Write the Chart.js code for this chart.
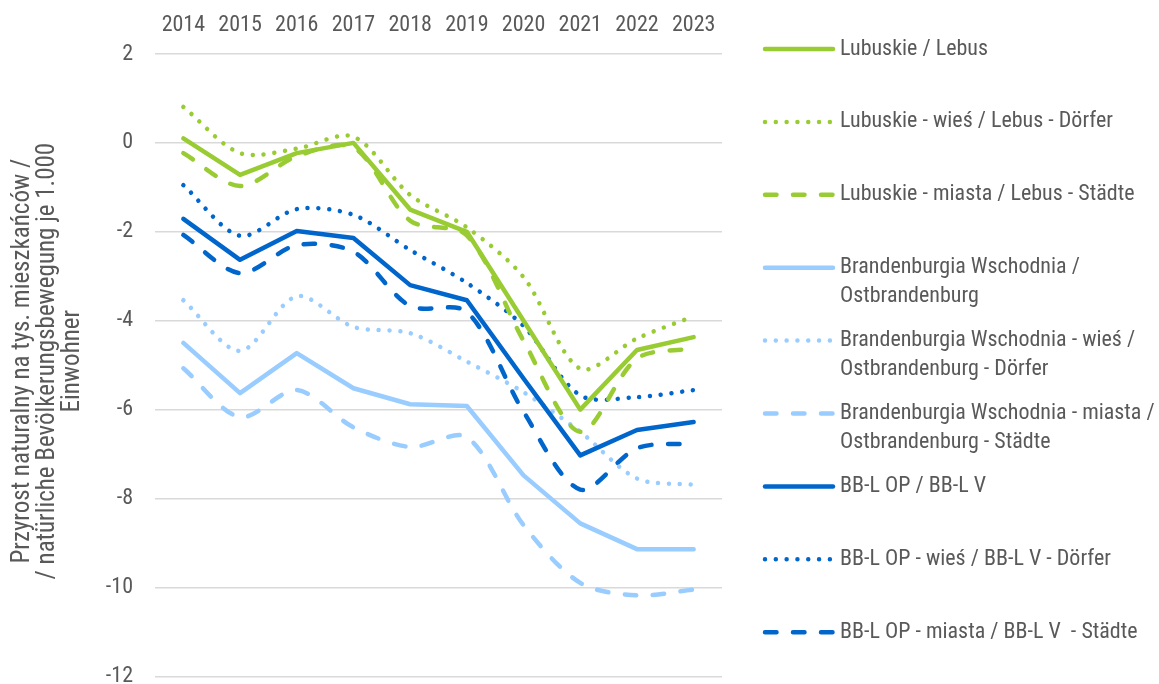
<!DOCTYPE html>
<html>
<head>
<meta charset="utf-8">
<script src="https://cdn.jsdelivr.net/npm/chart.js@4.4.1/dist/chart.umd.min.js"></script>
<style>
  html, body { margin: 0; padding: 0; background: #ffffff; }
  #wrap { width: 1159px; height: 684px; position: relative; }
</style>
</head>
<body>
<div id="wrap"><canvas id="c" width="1159" height="684"></canvas></div>
<script>
// ---------- data ----------
const years = ['2014', '2015', '2016', '2017', '2018', '2019', '2020', '2021', '2022', '2023'];

const lubuskie        = [0.10, -0.72, -0.23, 0.00, -1.50, -2.00, -4.00, -6.00, -4.66, -4.37];
const lubuskieWies    = [0.81, -0.23, -0.13, 0.14, -1.17, -1.90, -3.02, -5.08, -4.40, -3.90];
const lubuskieMiasta  = [-0.23, -0.97, -0.30, -0.10, -1.75, -2.08, -4.45, -6.50, -4.85, -4.62];
const brand           = [-4.50, -5.63, -4.73, -5.52, -5.88, -5.92, -7.48, -8.56, -9.14, -9.14];
const brandWies       = [-3.54, -4.68, -3.45, -4.14, -4.28, -4.92, -5.61, -6.50, -7.55, -7.69];
const brandMiasta     = [-5.07, -6.17, -5.56, -6.40, -6.84, -6.62, -8.60, -9.90, -10.18, -10.05];
const bbl             = [-1.71, -2.63, -1.98, -2.14, -3.20, -3.54, -5.30, -7.03, -6.46, -6.28];
const bblWies         = [-0.95, -2.09, -1.49, -1.62, -2.41, -3.15, -4.12, -5.68, -5.72, -5.56];
const bblMiasta       = [-2.07, -2.93, -2.30, -2.45, -3.67, -3.80, -6.05, -7.80, -6.87, -6.76];

const seriesNames = [
  'Lubuskie / Lebus',
  'Lubuskie - wieś / Lebus - Dörfer',
  'Lubuskie - miasta / Lebus - Städte',
  'Brandenburgia Wschodnia /\nOstbrandenburg',
  'Brandenburgia Wschodnia - wieś /\nOstbrandenburg - Dörfer',
  'Brandenburgia Wschodnia - miasta /\nOstbrandenburg - Städte',
  'BB-L OP / BB-L V',
  'BB-L OP - wieś / BB-L V - Dörfer',
  'BB-L OP - miasta / BB-L V  - Städte'
];
const seriesValues = [lubuskie, lubuskieWies, lubuskieMiasta, brand, brandWies, brandMiasta, bbl, bblWies, bblMiasta];

const yTitleLines = [
  'Przyrost naturalny na tys. mieszkańców /',
  '/ natürliche Bevölkerungsbewegung je 1.000',
  'Einwohner'
];

// ---------- styles ----------
const FONT = "'Liberation Sans Narrow', 'Arial Narrow', 'Roboto Condensed', 'Liberation Sans', Arial, sans-serif";
const TEXT = '#595959';
const GREEN = '#99CC33', BLUE = '#0066CC', LIGHT = '#99CCFF';
const colors = [GREEN, GREEN, GREEN, LIGHT, LIGHT, LIGHT, BLUE, BLUE, BLUE];
const kinds = ['solid', 'dot', 'dash', 'solid', 'dot', 'dash', 'solid', 'dot', 'dash'];
const LW = 4.5;
const dashFor = k => k === 'dot' ? [0.01, 10.8] : (k === 'dash' ? [11.5, 16.5] : []);

const datasets = seriesValues.map((vals, i) => ({
  label: seriesNames[i],
  data: vals,
  borderColor: colors[i],
  backgroundColor: colors[i],
  borderWidth: LW,
  borderDash: dashFor(kinds[i]),
  borderCapStyle: 'round',
  borderJoinStyle: 'round',
  pointRadius: 0,
  pointHoverRadius: 0,
  fill: false,
  tension: kinds[i] === 'solid' ? 0 : 0.3
}));
datasets.forEach((d, i) => { d.order = kinds[i] === 'solid' ? 0 : 1; });

// ---------- plugins ----------
const decorations = {
  id: 'decorations',
  afterDraw(chart) {
    const ctx = chart.ctx;
    const area = chart.chartArea;
    // y-axis title (rotated)
    ctx.save();
    ctx.fillStyle = TEXT;
    ctx.font = '25px ' + FONT;
    ctx.textAlign = 'center';
    ctx.textBaseline = 'alphabetic';
    const cy = (area.top + area.bottom) / 2 - 4;
    const baseX = [29, 54, 79];
    yTitleLines.forEach((t, i) => {
      ctx.save();
      ctx.translate(baseX[i], cy);
      ctx.rotate(-Math.PI / 2);
      ctx.fillText(t, 0, 0);
      ctx.restore();
    });
    ctx.restore();

    // legend
    const x0 = 765, x1 = 833, tx = 840, y0 = 49, step = 72.9, lh = 29;
    chart.data.datasets.forEach((ds, i) => {
      const y = y0 + i * step;
      ctx.save();
      ctx.strokeStyle = ds.borderColor;
      ctx.lineWidth = LW;
      ctx.lineCap = 'round';
      ctx.setLineDash(ds.borderDash || []);
      ctx.beginPath();
      ctx.moveTo(x0, y);
      ctx.lineTo(x1, y);
      ctx.stroke();
      ctx.restore();
      ctx.save();
      ctx.fillStyle = TEXT;
      ctx.font = '22px ' + FONT;
      ctx.textAlign = 'left';
      ctx.textBaseline = 'middle';
      ds.label.split('\n').forEach((line, j) => ctx.fillText(line, tx, y + j * lh));
      ctx.restore();
    });
  }
};

new Chart(document.getElementById('c'), {
  type: 'line',
  data: { labels: years, datasets },
  options: {
    responsive: false,
    animation: false,
    devicePixelRatio: 1,
    layout: { padding: { left: 0, right: 437, top: 2, bottom: 6 } },
    plugins: { legend: { display: false }, tooltip: { enabled: false }, title: { display: false } },
    scales: {
      x: {
        position: 'top',
        offset: true,
        grid: { display: false, drawTicks: false },
        border: { display: false },
        ticks: { color: TEXT, font: { family: FONT, size: 22 }, padding: 15, maxRotation: 0, autoSkip: false },
        afterFit(scale) { scale.height = 52; }
      },
      y: {
        min: -12, max: 2,
        ticks: { stepSize: 2, color: TEXT, font: { family: FONT, size: 22, lineHeight: 0.7 }, padding: 0 },
        grid: { color: '#d9d9d9', lineWidth: 1.5, drawTicks: true, tickLength: 22, tickColor: 'rgba(0,0,0,0)' },
        border: { display: false },
        afterFit(scale) { scale.width = 155; }
      }
    }
  },
  plugins: [decorations]
});
</script>
</body>
</html>
